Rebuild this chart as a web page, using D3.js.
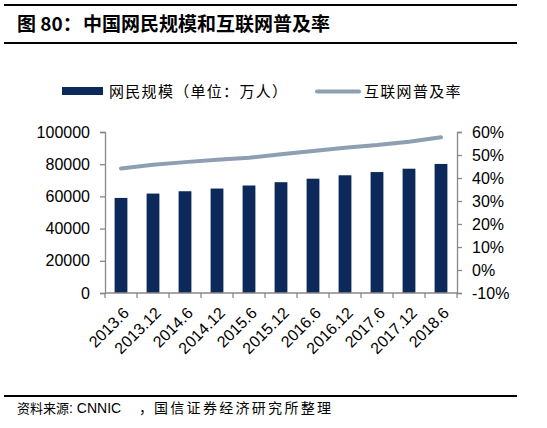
<!DOCTYPE html>
<html>
<head>
<meta charset="utf-8">
<script src="https://cdn.jsdelivr.net/npm/d3@7"></script>
<style>
  body { margin: 0; background: #fff; }
  svg text { font-family: "Liberation Sans", Arial, "Noto Sans CJK SC", sans-serif; }
</style>
</head>
<body>
<svg id="chart" width="547" height="428"></svg>
<script>
// data (CNNIC)
const periods = ["2013.6", "2013.12", "2014.6", "2014.12", "2015.6", "2015.12",
                 "2016.6", "2016.12", "2017.6", "2017.12", "2018.6"];
const netizens = [59056, 61758, 63200, 64875, 66769, 68826, 71000, 73125, 75116, 77198, 80166];
const penetration = [44.1, 45.8, 46.9, 47.9, 48.8, 50.3, 51.7, 53.2, 54.3, 55.8, 57.7];
const leftTicks = [0, 20000, 40000, 60000, 80000, 100000];
const rightTicks = [-10, 0, 10, 20, 30, 40, 50, 60];

const svg = d3.select("#chart");
const cjk = '"Noto Sans CJK SC", sans-serif';

// title block
svg.append("line").attr("x1", 4).attr("x2", 517).attr("y1", 5).attr("y2", 5)
  .attr("stroke", "#000").attr("stroke-width", 2);
svg.append("line").attr("x1", 4).attr("x2", 517).attr("y1", 43).attr("y2", 43)
  .attr("stroke", "#000").attr("stroke-width", 2);
const title = svg.append("text").attr("x", 17).attr("y", 31)
  .style("font-family", cjk).style("font-weight", "bold").style("font-size", "19px");
title.append("tspan").text("图 80：");
title.append("tspan").attr("x", 83).text("中国网民规模和互联网普及率");

const x = d3.scaleBand().domain(periods).range([105, 457]).paddingInner(0.6).paddingOuter(0.3);
const yL = d3.scaleLinear().domain([0, 100000]).range([293, 132]);
const yR = d3.scaleLinear().domain([-10, 60]).range([293, 132]);

const grey = "#898989";

// bars
svg.append("g").selectAll("rect")
  .data(netizens)
  .join("rect")
  .attr("x", (d, i) => x(periods[i]))
  .attr("y", d => yL(d))
  .attr("width", x.bandwidth())
  .attr("height", d => yL(0) - yL(d))
  .attr("fill", "#0b2a59");

// line
const line = d3.line()
  .x((d, i) => x(periods[i]) + x.bandwidth() / 2)
  .y(d => yR(d));
svg.append("path").datum(penetration)
  .attr("d", line)
  .attr("fill", "none")
  .attr("stroke", "#8e9fb1")
  .attr("stroke-width", 4)
  .attr("stroke-linecap", "round");

// left axis
const axL = svg.append("g").attr("transform", "translate(105,0)")
  .call(d3.axisLeft(yL).tickValues(leftTicks).tickSizeOuter(0).tickSize(5).tickPadding(10).tickFormat(d3.format("d")));
// right axis
const axR = svg.append("g").attr("transform", "translate(457,0)")
  .call(d3.axisRight(yR).tickValues(rightTicks).tickSizeOuter(0).tickSize(5).tickPadding(10).tickFormat(d => d + "%"));
[axL, axR].forEach(a => {
  a.select(".domain").attr("stroke", grey).attr("stroke-width", 1.3);
  a.selectAll(".tick line").attr("stroke", grey).attr("stroke-width", 1.3);
  a.selectAll("text").style("font-size", "16px").attr("fill", "#000");
});

// bottom axis with boundary ticks
svg.append("line").attr("x1", 105).attr("x2", 457).attr("y1", 293).attr("y2", 293)
  .attr("stroke", grey).attr("stroke-width", 1.3);
const step = x.step();
svg.append("g").selectAll("line")
  .data(d3.range(periods.length + 1))
  .join("line")
  .attr("x1", i => 105 + i * step).attr("x2", i => 105 + i * step)
  .attr("y1", 293).attr("y2", 298)
  .attr("stroke", grey).attr("stroke-width", 1.3);
svg.append("g").selectAll("text")
  .data(periods)
  .join("text")
  .attr("transform", d => `translate(${x(d) + x.bandwidth() / 2 + 9},${314}) rotate(-45)`)
  .attr("text-anchor", "end")
  .style("font-size", "16px")
  .text(d => d);

// legend
svg.append("rect").attr("x", 62).attr("y", 87).attr("width", 41).attr("height", 8).attr("fill", "#0b2a59");
svg.append("text").attr("x", 109).attr("y", 97).style("font-family", cjk).style("font-size", "15px")
  .style("letter-spacing", "1.3px")
  .text("网民规模（单位：万人）");
svg.append("line").attr("x1", 317).attr("x2", 359).attr("y1", 91.5).attr("y2", 91.5)
  .attr("stroke", "#8e9fb1").attr("stroke-width", 4).attr("stroke-linecap", "round");
svg.append("text").attr("x", 364).attr("y", 97).style("font-family", cjk).style("font-size", "15px")
  .style("letter-spacing", "1.3px")
  .text("互联网普及率");

// footer
svg.append("line").attr("x1", 4).attr("x2", 517).attr("y1", 396).attr("y2", 396)
  .attr("stroke", "#000").attr("stroke-width", 2);
const foot = svg.append("text").attr("x", 17).attr("y", 413).style("font-size", "14px");
foot.append("tspan").style("font-family", cjk).style("font-size", "13px").text("资料来源");
foot.append("tspan").text(": CNNIC");
foot.append("tspan").attr("x", 139).style("font-family", cjk).text("，");
foot.append("tspan").attr("x", 154).style("font-family", cjk).style("letter-spacing", "2.3px")
  .text("国信证券经济研究所整理");
</script>
</body>
</html>
